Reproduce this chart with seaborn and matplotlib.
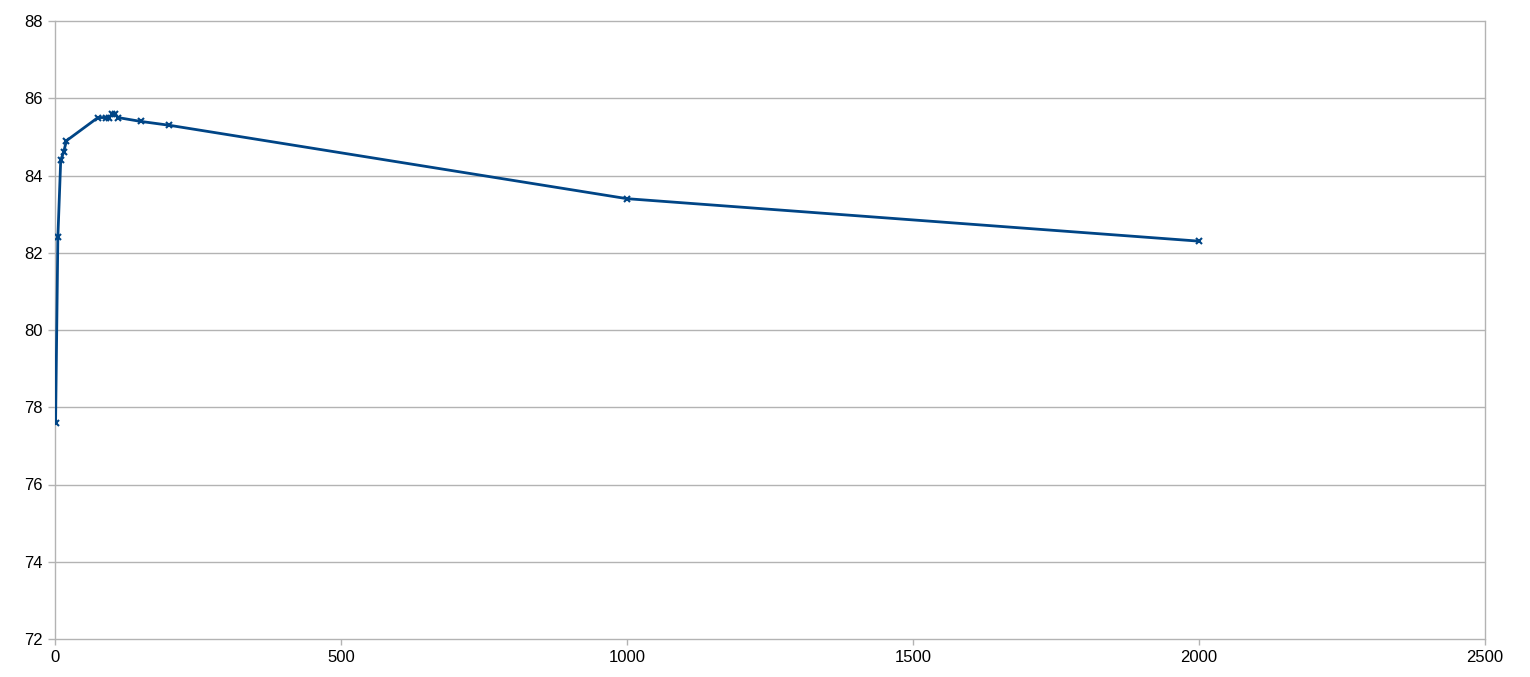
import matplotlib
matplotlib.use("Agg")
import matplotlib.pyplot as plt
import seaborn as sns
import pandas as pd

# values
x_vals = [1, 5, 10, 15, 20, 75, 90, 95, 100, 105, 110, 150, 200, 1000, 2000]
y_vals = [77.6, 82.4, 84.4, 84.6, 84.9, 85.5, 85.5, 85.5, 85.6, 85.6, 85.5, 85.4, 85.3, 83.4, 82.3]
x_ticks = [0, 500, 1000, 1500, 2000, 2500]
y_ticks = [72, 74, 76, 78, 80, 82, 84, 86, 88]

df = pd.DataFrame({"x": x_vals, "y": y_vals})

sns.set_style("white")
plt.rcParams["font.family"] = ["Liberation Sans", "DejaVu Sans"]

fig = plt.figure(figsize=(15.3, 6.77), dpi=100)
ax = fig.add_axes([55 / 1530, 1 - 639 / 677, 1430 / 1530, 618 / 677])

grid_col = "#b3b3b3"
line_col = "#004586"

sns.lineplot(data=df, x="x", y="y", ax=ax, color=line_col, linewidth=2,
             marker="x", markersize=4, markeredgewidth=1.5,
             markeredgecolor=line_col, sort=False, zorder=3)

ax.set_xlim(0, 2500)
ax.set_ylim(72, 88)
ax.set_xticks(x_ticks)
ax.set_yticks(y_ticks)
ax.set_xlabel("")
ax.set_ylabel("")

ax.yaxis.grid(True, color=grid_col, linewidth=1)
ax.xaxis.grid(False)
for gl in ax.get_ygridlines():
    gl.set_clip_on(False)
for side in ["top", "bottom"]:
    ax.spines[side].set_visible(False)
for side in ["left", "right"]:
    ax.spines[side].set_visible(True)
    ax.spines[side].set_color(grid_col)
    ax.spines[side].set_linewidth(1)

ax.tick_params(axis="both", colors="black", labelsize=12, width=1,
               color=grid_col, direction="out")
ax.tick_params(axis="y", left=True, length=5, pad=4)
ax.tick_params(axis="x", bottom=True, length=4, pad=4)

fig.savefig("out.png", dpi=100)
